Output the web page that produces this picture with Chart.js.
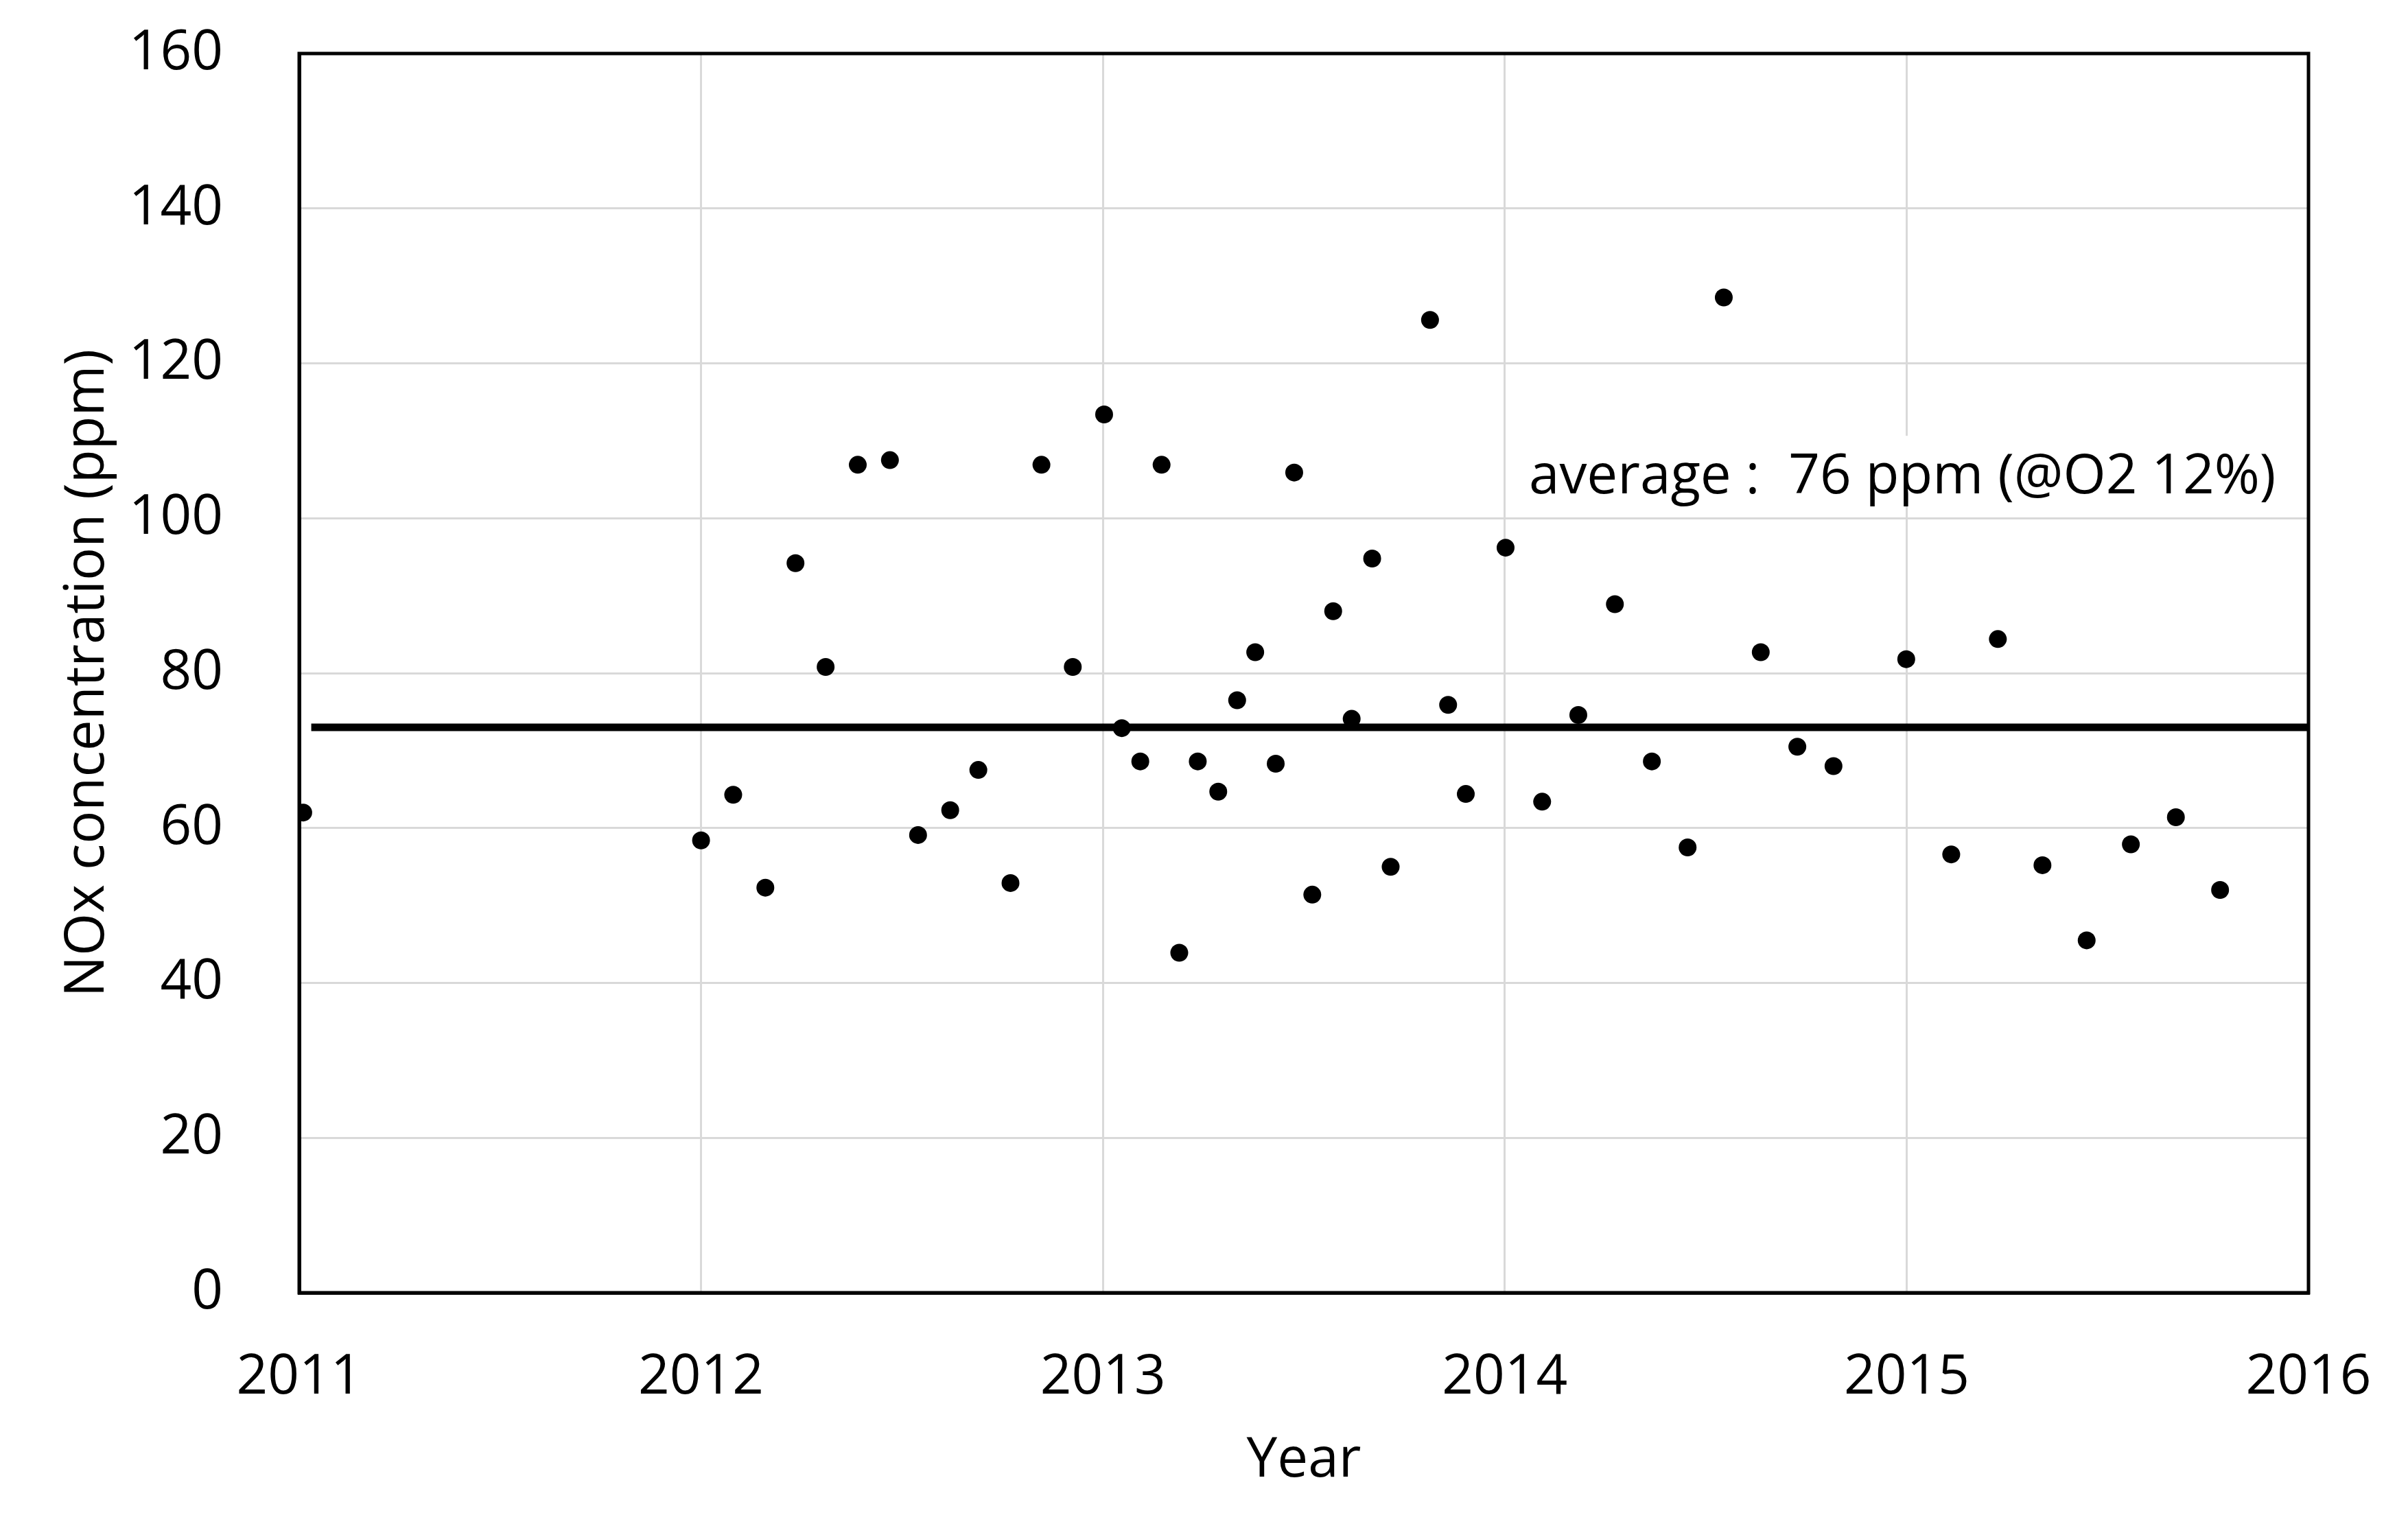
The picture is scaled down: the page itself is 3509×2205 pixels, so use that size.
<!DOCTYPE html>
<html lang="en">
<head>
    <meta charset="UTF-8">
    <title>NOx concentration</title>
    <script src="https://cdn.jsdelivr.net/npm/chart.js"></script>
    <style>
        body { margin: 0; background: #fff; }
    </style>
</head>
<body>
    <canvas id="noxChart" width="3509" height="2205"></canvas>

    <script>
        // measurement dates (decimal years) and NOx values (ppm)
        var sampleYears = [2011.01,
            2012.0, 2012.08, 2012.16, 2012.235, 2012.31, 2012.39, 2012.47, 2012.54, 2012.62, 2012.69, 2012.77, 2012.847, 2012.925,
            2013.003, 2013.047, 2013.093, 2013.146, 2013.19, 2013.236, 2013.287, 2013.334, 2013.379, 2013.43, 2013.476, 2013.521,
            2013.573, 2013.619, 2013.67, 2013.716, 2013.814, 2013.859, 2013.903,
            2014.002, 2014.093, 2014.183, 2014.274, 2014.366, 2014.455, 2014.545, 2014.637, 2014.728, 2014.818, 2014.999,
            2015.111, 2015.227, 2015.338, 2015.448, 2015.558, 2015.67, 2015.78];
        var noxValues = [62.0,
            58.4, 64.3, 52.3, 94.2, 80.8, 106.9, 107.5, 59.1, 62.3, 67.5, 52.9, 106.9, 80.8,
            113.4, 72.9, 68.6, 106.9, 43.9, 68.6, 64.7, 76.5, 82.7, 68.3, 105.9, 51.4,
            88.0, 74.1, 94.8, 55.0, 125.6, 75.9, 64.4,
            96.2, 63.4, 74.6, 88.9, 68.6, 57.5, 128.5, 82.7, 70.5, 68.0, 81.8,
            56.6, 84.4, 55.2, 45.5, 57.9, 61.4, 52.0];

        // average line
        var avgLineYears = [2011.03, 2016];
        var avgLineValues = [73, 73];

        var noteText = 'average :  76 ppm (@O2 12%)';
        var noteX = 2014.06;
        var noteY = 103.2;

        var xTicks = [2011, 2012, 2013, 2014, 2015, 2016];
        var yTicks = [0, 20, 40, 60, 80, 100, 120, 140, 160];

        var fontName = '"Open Sans", "Noto Sans", sans-serif';

        function toPoints(xs, ys) {
            return xs.map(function (x, i) { return { x: x, y: ys[i] }; });
        }

        // white box + text for the average label
        var notePlugin = {
            id: 'note',
            beforeDatasetsDraw: function (chart) {
                var ctx = chart.ctx;
                var px = chart.scales.x.getPixelForValue(noteX);
                var py = chart.scales.y.getPixelForValue(noteY);
                ctx.save();
                ctx.font = '80px ' + fontName;
                var w = ctx.measureText(noteText).width;
                ctx.fillStyle = '#fff';
                ctx.fillRect(px - 12, py - 84, w + 24, 102);
                ctx.fillStyle = '#000';
                ctx.textAlign = 'left';
                ctx.textBaseline = 'alphabetic';
                ctx.fillText(noteText, px, py);
                ctx.restore();
            }
        };

        // black frame round the plot area
        var framePlugin = {
            id: 'frame',
            afterDraw: function (chart) {
                var a = chart.chartArea;
                var ctx = chart.ctx;
                ctx.save();
                ctx.strokeStyle = '#000';
                ctx.lineWidth = 5;
                ctx.strokeRect(a.left, a.top, a.right - a.left, a.bottom - a.top);
                ctx.restore();
            }
        };

        var ctx = document.getElementById('noxChart').getContext('2d');
        new Chart(ctx, {
            type: 'scatter',
            data: {
                datasets: [{
                    data: toPoints(sampleYears, noxValues),
                    pointRadius: 13,
                    pointBackgroundColor: '#000',
                    pointBorderWidth: 0,
                    order: 1
                }, {
                    type: 'line',
                    data: toPoints(avgLineYears, avgLineValues),
                    borderColor: '#000',
                    borderWidth: 11,
                    pointRadius: 0,
                    fill: false,
                    order: 2
                }]
            },
            options: {
                responsive: false,
                animation: false,
                layout: { padding: { left: 0, right: 145, top: 78, bottom: 0 } },
                plugins: {
                    legend: { display: false },
                    tooltip: { enabled: false }
                },
                scales: {
                    x: {
                        type: 'linear',
                        min: 2011,
                        max: 2016,
                        afterBuildTicks: function (scale) {
                            scale.ticks = xTicks.map(function (v) { return { value: v }; });
                        },
                        ticks: {
                            color: '#000',
                            padding: 76,
                            font: { family: fontName, size: 80 },
                            callback: function (v) { return String(v); }
                        },
                        grid: { color: '#d9d9d9', lineWidth: 3, drawTicks: false },
                        border: { color: '#000', width: 5 },
                        title: {
                            display: true,
                            text: 'Year',
                            color: '#000',
                            font: { family: fontName, size: 80 },
                            padding: { top: 0, bottom: 28 }
                        },
                        afterFit: function (scale) {
                            scale.height = 321;
                            scale.paddingLeft = 0;
                            scale.paddingRight = 0;
                        }
                    },
                    y: {
                        type: 'linear',
                        min: 0,
                        max: 160,
                        afterBuildTicks: function (scale) {
                            scale.ticks = yTicks.map(function (v) { return { value: v }; });
                        },
                        ticks: {
                            color: '#000',
                            padding: 111,
                            font: { family: fontName, size: 80 }
                        },
                        grid: { color: '#d9d9d9', lineWidth: 3, drawTicks: false },
                        border: { color: '#000', width: 5 },
                        title: {
                            display: true,
                            text: 'NOx concentration (ppm)',
                            color: '#000',
                            font: { family: fontName, size: 80 },
                            padding: { top: 80, bottom: 0 }
                        },
                        afterFit: function (scale) {
                            scale.width = 436;
                            scale.paddingTop = 0;
                            scale.paddingBottom = 0;
                        }
                    }
                }
            },
            plugins: [notePlugin, framePlugin]
        });
    </script>
</body>
</html>
